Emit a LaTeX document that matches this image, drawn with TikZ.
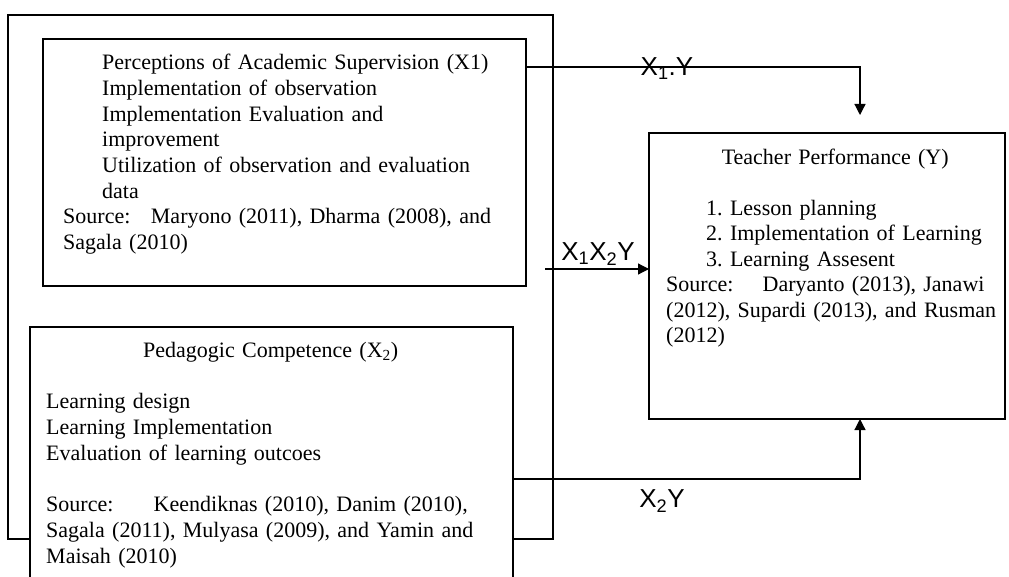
\documentclass[tikz,border=0pt]{standalone}
\usepackage{fontspec}
\setmainfont{Liberation Serif}
\newfontfamily\arialfont{Liberation Sans}
\usetikzlibrary{positioning,arrows.meta}
\frenchspacing

\tikzset{
  frame/.style={draw, line width=1.2pt, fill=white, anchor=north west, inner sep=0pt, outer sep=0pt},
  boxtext/.style={inner sep=0pt, font=\fontsize{22}{25.7}\selectfont,
    execute at begin node=\setlength{\parindent}{0pt}},
  link/.style={line width=1.2pt, -{Triangle[length=11pt,width=11pt]}},
  linklabel/.style={font=\arialfont\fontsize{26}{26}\selectfont, inner sep=0pt}
}

\begin{document}
\begin{tikzpicture}[x=1pt, y=-1pt]
\useasboundingbox (0,0) rectangle (1009,577);
\clip (0,0) rectangle (1009,577);

% frames
\node[frame, minimum width=545pt, minimum height=524pt, fill=none] (outer) at (8,15) {};
\node[frame, minimum width=483pt, minimum height=247pt] (pas) at (43,39) {};
\node[frame, minimum width=483pt, minimum height=300pt] (ped) at (30,327) {};
\node[frame, minimum width=356pt, minimum height=286pt] (tp) at (649,133) {};

% texts
\node[boxtext, text width=447pt, below right=15pt and 20pt of pas.north west] (pastext) {%
  {\leftskip=39pt
  Perceptions of Academic Supervision (X1)\par
  Implementation of observation\par
  Implementation Evaluation and\par
  improvement\par
  Utilization of observation and evaluation\linebreak data\par}
  Source:\hspace{0.6em} Maryono (2011), Dharma (2008), and\linebreak Sagala (2010)};

\node[boxtext, text width=449pt, below right=15pt and 16pt of ped.north west] (pedtext) {%
  {\centering Pedagogic Competence (X\textsubscript{2})\par}
  \vskip\baselineskip
  Learning design\par
  Learning Implementation\par
  Evaluation of learning outcoes\par
  \vskip\baselineskip
  Source:\hspace{1.5em} Keendiknas (2010), Danim (2010),\linebreak Sagala (2011), Mulyasa (2009), and Yamin and\linebreak Maisah (2010)};

\node[boxtext, font=\fontsize{22}{25.4}\selectfont, text width=338pt, below right=16pt and 17pt of tp.north west] (tptext) {%
  {\centering Teacher Performance (Y)\par}
  \vskip\baselineskip
  {\leftskip=40pt
  1. Lesson planning\par
  2. Implementation of Learning\par
  3. Learning Assesent\par}
  Source:\hspace{1em} Daryanto (2013), Janawi\linebreak (2012), Supardi (2013), and Rusman\linebreak (2012)};

% connectors
\coordinate (mid) at (545,269);
\draw[link] ([yshift=-28pt]pas.north east) -| ([xshift=33pt,yshift=18pt]tp.north);
\draw[link] (mid) -- (mid -| tp.west);
\draw[link] ([yshift=-152pt]ped.north east) -| ([xshift=33pt]tp.south);

\node[linklabel] (l1) at (667,69) {X\textsubscript{1}.Y};
\node[linklabel] (l12) at (598,254) {X\textsubscript{1}X\textsubscript{2}Y};
\node[linklabel] (l2) at (662,501) {X\textsubscript{2}Y};
\end{tikzpicture}
\end{document}
